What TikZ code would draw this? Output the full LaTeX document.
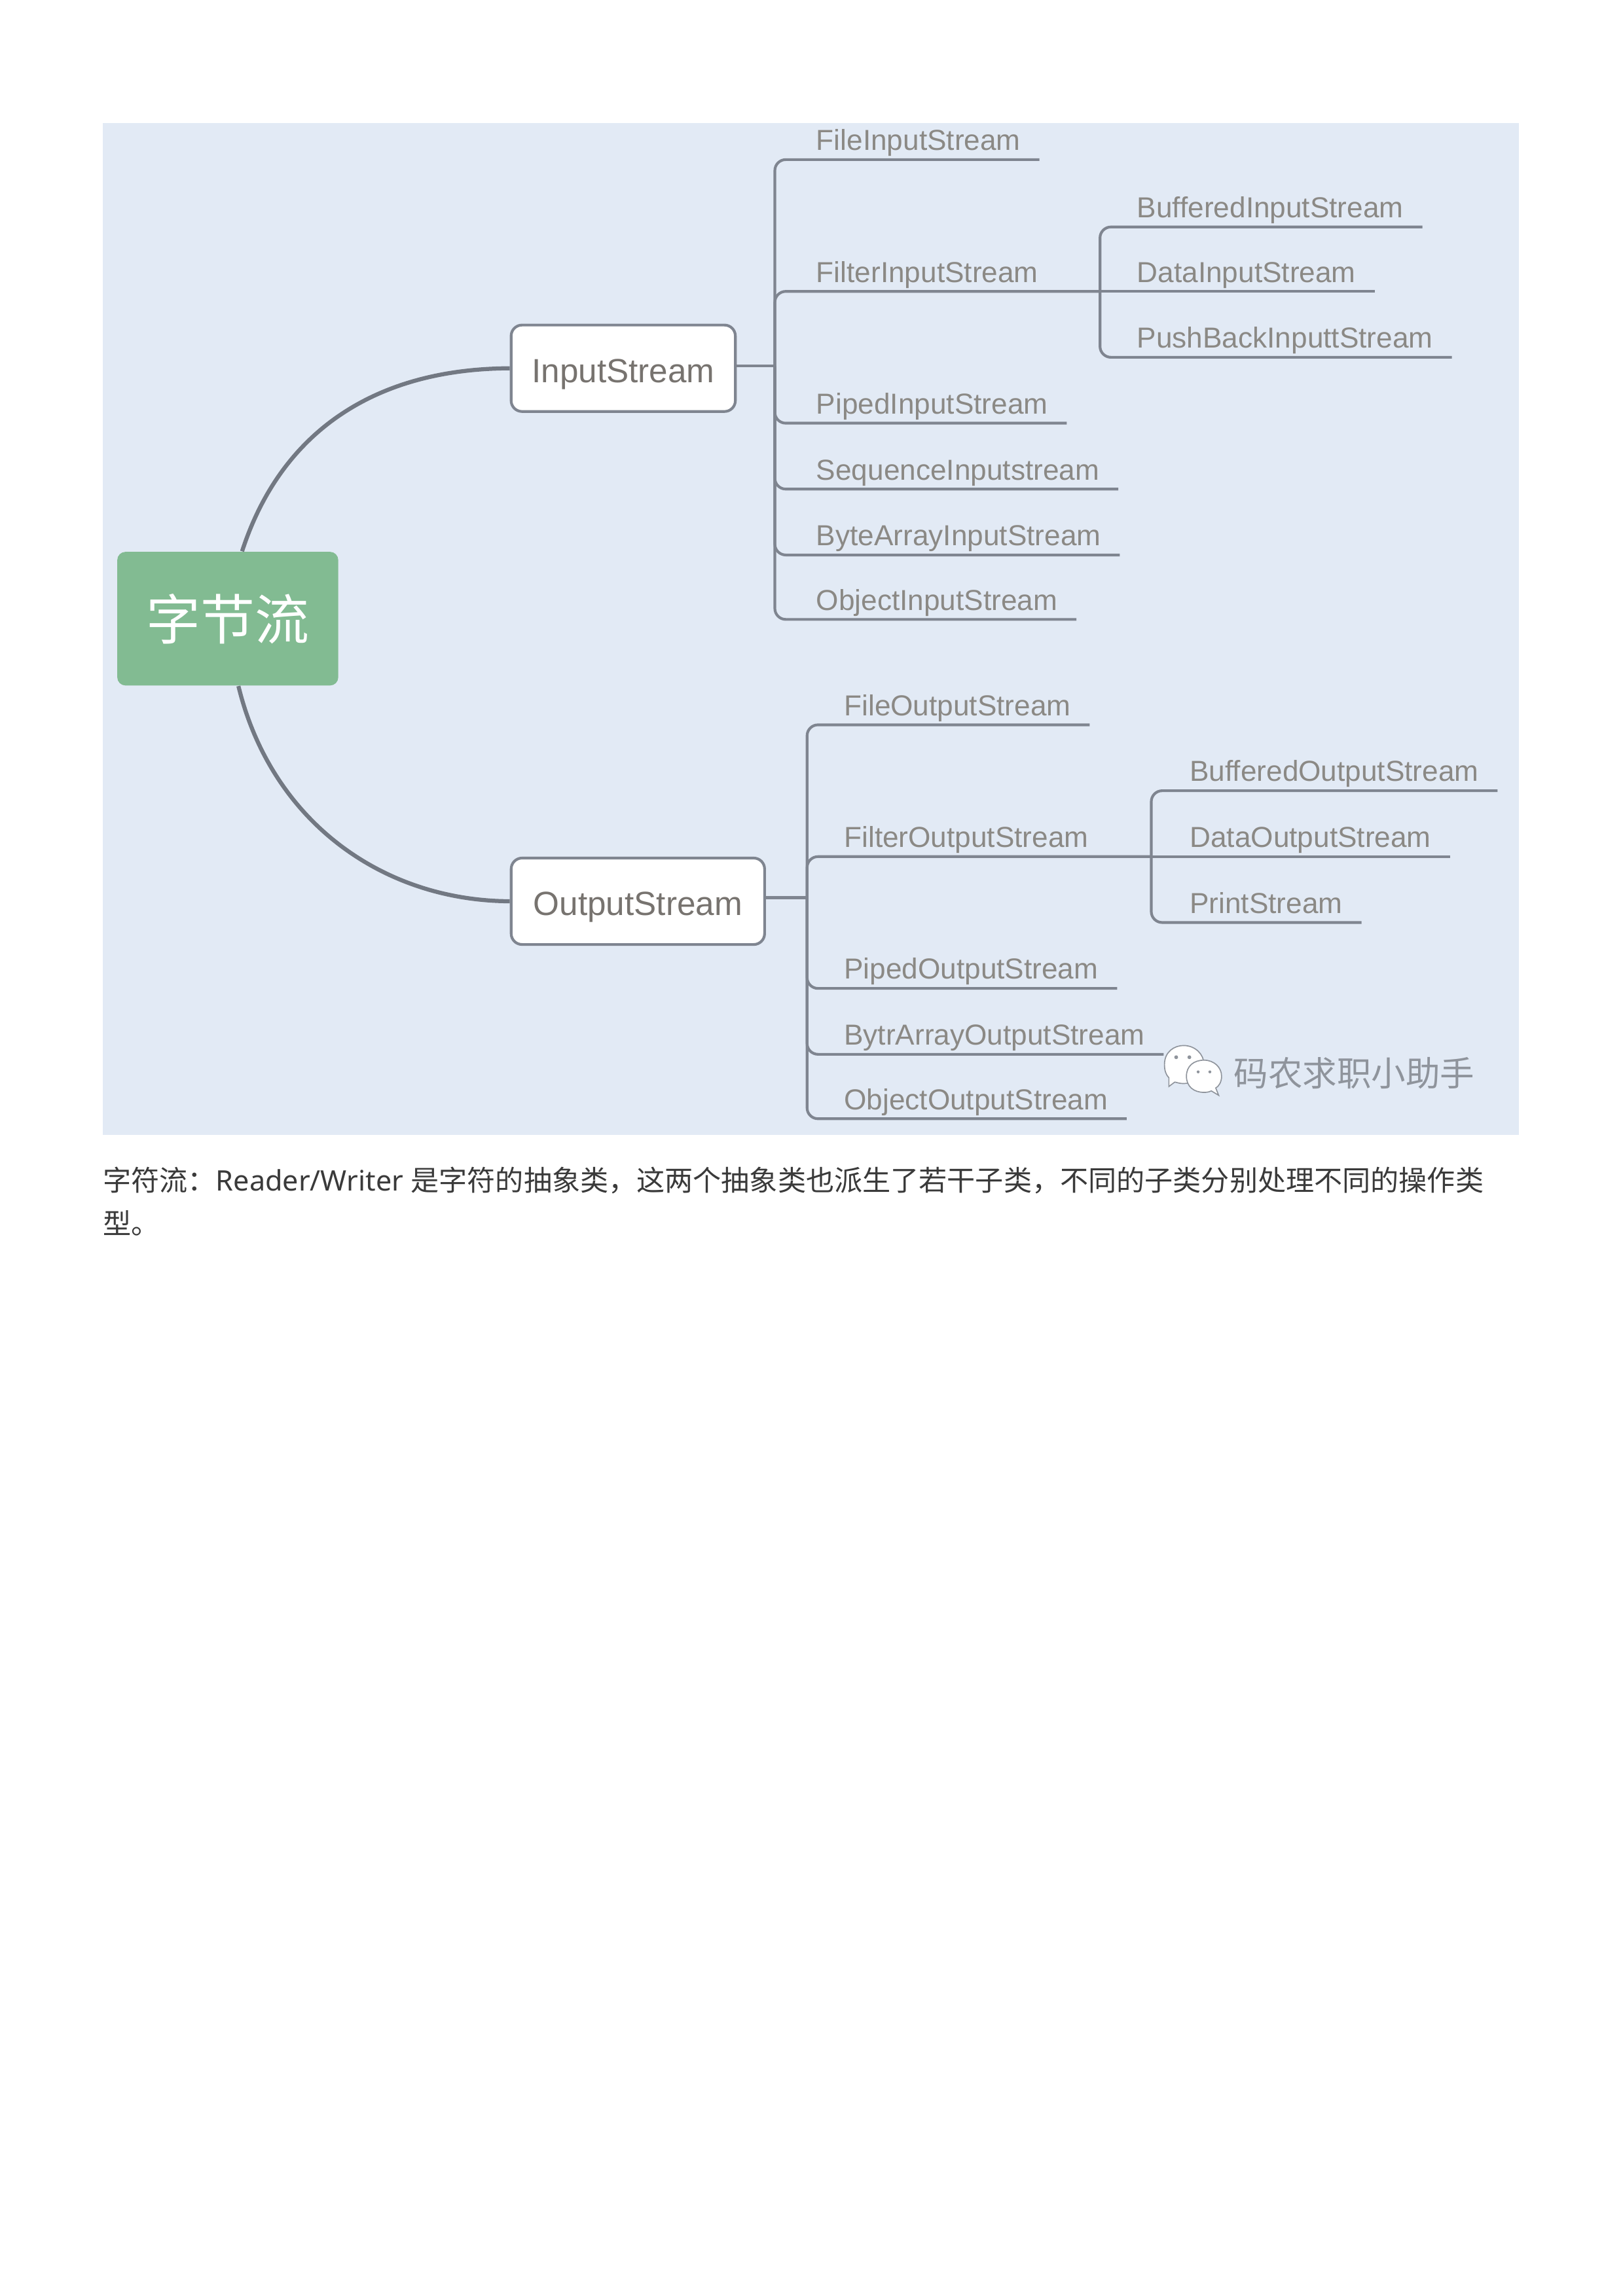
\documentclass[tikz,border=0pt]{standalone}
\usepackage{fontspec}
\setmainfont{Liberation Sans}
\newfontfamily\cjk{Noto Sans CJK SC}
\newfontfamily\bodyfont{Noto Sans}
\definecolor{panelblue}{HTML}{E2EAF5}
\definecolor{linegray}{HTML}{7F8590}
\definecolor{leafgray}{HTML}{8B8985}
\definecolor{boxgray}{HTML}{77736F}
\definecolor{rootgreen}{HTML}{82BB92}
\definecolor{bodygray}{HTML}{3A3A3A}
\definecolor{markgray}{HTML}{8F949C}
\tikzset{
	leafnode/.style={anchor=south west,xshift=0.75pt,inner xsep=6.75pt,inner ysep=0.8pt,text height=8pt,text depth=2.4pt,text=leafgray,font=\fontsize{10.6}{12}\selectfont},
	streambox/.style={draw=linegray,line width=1pt,fill=white,rounded corners=4pt,inner xsep=7.5pt,inner ysep=0pt,minimum height=31.7pt,text height=10.4pt,text depth=0pt,text=boxgray,font=\fontsize{12.3}{14}\selectfont},
	rootbox/.style={fill=rootgreen,rounded corners=3pt,inner sep=0pt,minimum width=81pt,minimum height=49pt,text=white,font=\cjk\fontsize{19.9}{22}\selectfont},
	curveline/.style={draw=linegray!90!black,line width=1.5pt},
	branchline/.style={draw=linegray,line width=1pt,rounded corners=4pt},
}
\begin{document}
\begin{tikzpicture}[x=0.53694pt,y=-0.53694pt]
	\useasboundingbox (0,0) rectangle (1108,1568);
	\fill[panelblue] (70,84) rectangle (1037,775);
	\node [rootbox] (root) at (155.5,422.5) {字节流};
	\node [streambox,minimum width=82.2pt] (input) at (425.5,251.5) {InputStream};
	\node [streambox,minimum width=92.9pt] (output) at (435.5,615.5) {OutputStream};
	\draw[curveline] (root.78) .. controls (190,300) and (250,252) .. (input.west);
	\draw[curveline] (root.-81) .. controls (185,560) and (260,615) .. (output.west);
	\coordinate (inputtrunk) at (529,250);
	\coordinate (filtertrunk) at (751,199);
	\coordinate (outputtrunk) at (551,613);
	\coordinate (foutputtrunk) at (786,585);
	\node [leafnode] (fileinput) at (543,109) {FileInputStream};
	\node [leafnode] (filterinput) at (543,199) {FilterInputStream};
	\node [leafnode] (pipedinput) at (543,289) {PipedInputStream};
	\node [leafnode] (seqinput) at (543,334) {SequenceInputstream};
	\node [leafnode] (byteinput) at (543,379) {ByteArrayInputStream};
	\node [leafnode] (objectinput) at (543,423) {ObjectInputStream};
	\node [leafnode] (bufferedinput) at (762,155) {BufferedInputStream};
	\node [leafnode] (datainput) at (762,199) {DataInputStream};
	\node [leafnode] (pushinput) at (762,244) {PushBackInputtStream};
	\node [leafnode] (fileoutput) at (562,495) {FileOutputStream};
	\node [leafnode] (filteroutput) at (562,585) {FilterOutputStream};
	\node [leafnode] (pipedoutput) at (562,675) {PipedOutputStream};
	\node [leafnode] (bytroutput) at (562,720) {BytrArrayOutputStream};
	\node [leafnode] (objectoutput) at (562,764) {ObjectOutputStream};
	\node [leafnode] (bufferedoutput) at (798,540) {BufferedOutputStream};
	\node [leafnode] (dataoutput) at (798,585) {DataOutputStream};
	\node [leafnode] (printoutput) at (798,630) {PrintStream};
	\draw[branchline] (input.east |- inputtrunk) -- (inputtrunk);
	\draw[branchline] (inputtrunk) |- (fileinput.south east);
	\draw[branchline] (inputtrunk) |- (filtertrunk);
	\draw[branchline] (inputtrunk) |- (pipedinput.south east);
	\draw[branchline] (inputtrunk) |- (seqinput.south east);
	\draw[branchline] (inputtrunk) |- (byteinput.south east);
	\draw[branchline] (inputtrunk) |- (objectinput.south east);
	\draw[branchline] (filtertrunk) |- (bufferedinput.south east);
	\draw[branchline] (filtertrunk) -- (datainput.south east);
	\draw[branchline] (filtertrunk) |- (pushinput.south east);
	\draw[branchline] (output.east |- outputtrunk) -- (outputtrunk);
	\draw[branchline] (outputtrunk) |- (fileoutput.south east);
	\draw[branchline] (outputtrunk) |- (foutputtrunk);
	\draw[branchline] (outputtrunk) |- (pipedoutput.south east);
	\draw[branchline] (outputtrunk) |- (bytroutput.south east);
	\draw[branchline] (outputtrunk) |- (objectoutput.south east);
	\draw[branchline] (foutputtrunk) |- (bufferedoutput.south east);
	\draw[branchline] (foutputtrunk) -- (dataoutput.south east);
	\draw[branchline] (foutputtrunk) |- (printoutput.south east);
	\draw[draw=markgray,line width=0.4pt,fill=white] (795,727) .. controls (795,718) and (802,714) .. (808,714) .. controls (816,714) and (822,720) .. (822,727) .. controls (822,735) and (815,740) .. (808,740) .. controls (805,740) and (803,739) .. (802,739) -- (798,742) -- (798,736) .. controls (796,734) and (795,731) .. (795,727) -- cycle;
	\draw[draw=markgray,line width=0.4pt,fill=white] (810,735) .. controls (810,728) and (815,724) .. (822,724) .. controls (829,724) and (834,729) .. (834,735) .. controls (834,739) and (832,742) .. (830,743) -- (832,748) -- (827,745) .. controls (825,746) and (823,746) .. (822,746) .. controls (815,746) and (810,742) .. (810,735) -- cycle;
	\fill[markgray] (803,722) circle (1.3) (812,722) circle (1.3) (818,732) circle (1) (826,732) circle (1);
	\node [anchor=west,inner sep=0pt,text=markgray,font=\cjk\fontsize{12.6}{14}\selectfont] (mark) at (842,733) {码农求职小助手};
	\node [anchor=north west,inner sep=0pt,align=left,text=bodygray,font=\fontsize{10.35}{15.9}\selectfont] (body) at (70,796.5) {\cjk 字符流\char"FF1A{\bodyfont Reader/Writer }是字符的抽象类\char"FF0C 这两个抽象类也派生了若干子类\char"FF0C 不同的子类分别处理不同的操作类\\\cjk 型。};
\end{tikzpicture}
\end{document}
